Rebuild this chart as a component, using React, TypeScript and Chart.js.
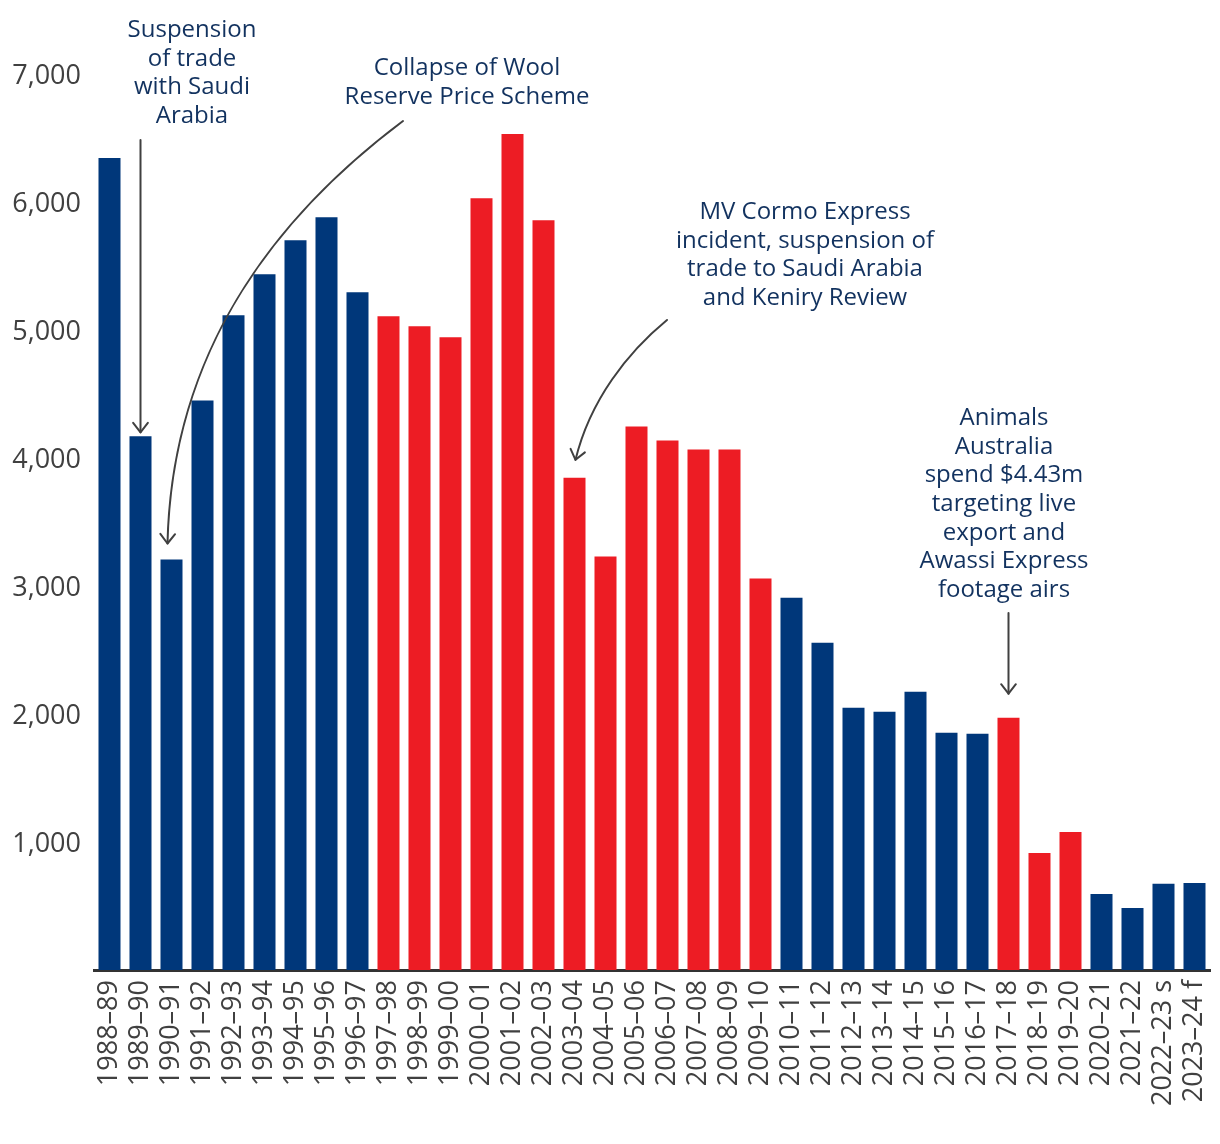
import React, { useEffect, useRef } from 'react';
import { Chart, registerables } from 'chart.js';

Chart.register(...registerables);

const categories = [
  '1988–89', '1989–90', '1990–91', '1991–92', '1992–93', '1993–94', '1994–95', '1995–96', '1996–97',
  '1997–98', '1998–99', '1999–00', '2000–01', '2001–02', '2002–03', '2003–04', '2004–05', '2005–06',
  '2006–07', '2007–08', '2008–09', '2009–10', '2010–11', '2011–12', '2012–13', '2013–14', '2014–15',
  '2015–16', '2016–17', '2017–18', '2018–19', '2019–20', '2020–21', '2021–22', '2022–23 s', '2023–24 f',
];

const values = [
  6343, 4169, 3207, 4450, 5115, 5436, 5702, 5881, 5295,
  5107, 5029, 4943, 6030, 6531, 5858, 3845, 3230, 4247,
  4137, 4067, 4067, 3058, 2909, 2557, 2049, 2018, 2174,
  1854, 1846, 1971, 915, 1079, 594, 485, 673, 680,
];

const redYears = [
  '1997–98', '1998–99', '1999–00', '2000–01', '2001–02', '2002–03', '2003–04', '2004–05', '2005–06',
  '2006–07', '2007–08', '2008–09', '2009–10', '2017–18', '2018–19', '2019–20',
];

const yTicks = [1000, 2000, 3000, 4000, 5000, 6000, 7000];

const noteTexts = [
  ['Suspension', 'of trade', 'with Saudi', 'Arabia'],
  ['Collapse of Wool', 'Reserve Price Scheme'],
  ['MV Cormo Express', 'incident, suspension of', 'trade to Saudi Arabia', 'and Keniry Review'],
  ['Animals', 'Australia', 'spend $4.43m', 'targeting live', 'export and', 'Awassi Express', 'footage airs'],
];
const noteTargets = ['1989–90', '1990–91', '2003–04', '2017–18'];

const NAVY = '#00377a';
const RED = '#ed1c24';
const TEXT = '#12325f';
const GREY = '#404040';

// layout of annotation text blocks and arrows (pixels)
const noteLayout = [
  { x: 192, y: 30, arrow: 'straight', sx: 0, sy: 140, gap: 4 },
  { x: 467, y: 68, arrow: 'curve', sx: 403, sy: 121, gap: 16, c1: [283, 211], c2: [172, 343], dx: -4 },
  { x: 805, y: 212, arrow: 'curve', sx: 667, sy: 320, gap: 18, c1: [628, 352], c2: [590, 400], dx: 1 },
  { x: 1004, y: 418, arrow: 'straight', sx: 0, sy: 613, gap: 24 },
];

function drawHead(ctx: CanvasRenderingContext2D, x: number, y: number, fx: number, fy: number) {
  const ang = Math.atan2(y - fy, x - fx);
  const len = 12;
  const spread = 0.66;
  ctx.beginPath();
  ctx.moveTo(x - len * Math.cos(ang - spread), y - len * Math.sin(ang - spread));
  ctx.lineTo(x, y);
  ctx.lineTo(x - len * Math.cos(ang + spread), y - len * Math.sin(ang + spread));
  ctx.stroke();
}

const notesPlugin = {
  id: 'notes',
  afterDatasetsDraw(chart: any) {
    const { ctx } = chart;
    const xs = chart.scales.x;
    const ys = chart.scales.y;
    ctx.save();
    ctx.font = '24px "Open Sans"';
    ctx.fillStyle = TEXT;
    ctx.textAlign = 'center';
    ctx.textBaseline = 'middle';
    noteTexts.forEach((lines, i) => {
      const l = noteLayout[i];
      lines.forEach((t, j) => ctx.fillText(t, l.x, l.y + j * 28.7));
    });
    ctx.strokeStyle = GREY;
    ctx.lineWidth = 2;
    ctx.lineCap = 'round';
    ctx.lineJoin = 'round';
    noteTargets.forEach((cat, i) => {
      const l: any = noteLayout[i];
      const idx = categories.indexOf(cat);
      const tx = xs.getPixelForValue(idx) + (l.dx || 0);
      const ty = ys.getPixelForValue(values[idx]) - l.gap;
      if (l.arrow === 'straight') {
        ctx.beginPath();
        ctx.moveTo(tx, l.sy);
        ctx.lineTo(tx, ty);
        ctx.stroke();
        drawHead(ctx, tx, ty, tx, ty - 10);
      } else {
        ctx.beginPath();
        ctx.moveTo(l.sx, l.sy);
        ctx.bezierCurveTo(l.c1[0], l.c1[1], l.c2[0], l.c2[1], tx, ty);
        ctx.stroke();
        drawHead(ctx, tx, ty, l.c2[0], l.c2[1]);
      }
    });
    ctx.restore();
  },
};

export default function App() {
  const ref = useRef<HTMLCanvasElement | null>(null);
  useEffect(() => {
    if (!ref.current) return;
    const chart = new Chart(ref.current, {
      type: 'bar',
      data: {
        labels: categories,
        datasets: [
          {
            data: values,
            backgroundColor: categories.map((c) => (redYears.includes(c) ? RED : NAVY)),
            borderWidth: 0,
            barPercentage: 0.71,
            categoryPercentage: 1,
          },
        ],
      },
      options: {
        responsive: false,
        animation: false,
        devicePixelRatio: 1,
        layout: { padding: { top: 74, right: 10, left: 0, bottom: 0 } },
        plugins: {
          legend: { display: false },
          tooltip: { enabled: false },
          title: { display: false },
        },
        scales: {
          x: {
            grid: { display: false, drawTicks: false },
            border: { display: true, color: '#333333', width: 3 },
            ticks: {
              color: GREY,
              font: { family: 'Open Sans', size: 27 },
              minRotation: 90,
              maxRotation: 90,
              padding: 10,
              autoSkip: false,
            },
            afterFit: (s: any) => {
              s.height = 174;
              s.paddingLeft = 0;
              s.paddingRight = 0;
            },
          },
          y: {
            min: 0,
            max: 7000,
            grid: { display: false, drawTicks: false },
            border: { display: false },
            afterBuildTicks: (s: any) => {
              s.ticks = yTicks.map((v) => ({ value: v }));
            },
            ticks: {
              color: GREY,
              font: { family: 'Open Sans', size: 27 },
              padding: 13,
              labelOffset: 2,
              callback: (v: any) => Number(v).toLocaleString('en-US'),
            },
            afterFit: (s: any) => {
              s.width = 94;
              s.paddingTop = 0;
              s.paddingBottom = 0;
            },
          },
        },
      },
      plugins: [notesPlugin],
    });
    return () => chart.destroy();
  }, []);
  return (
    <div style={{ position: 'absolute', left: 0, top: 0, width: 1220, height: 1144, background: '#fff' }}>
      <canvas ref={ref} width={1220} height={1144} />
    </div>
  );
}
